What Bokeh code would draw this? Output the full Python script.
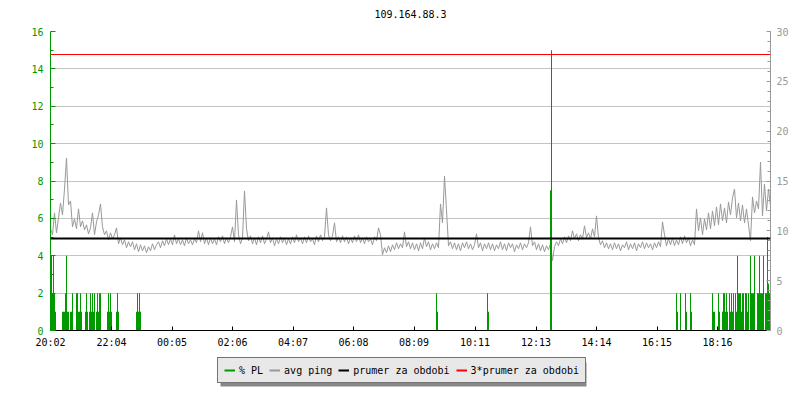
from bokeh.plotting import figure
from bokeh.layouts import column
from bokeh.models import (Range1d, LinearAxis, FixedTicker, Span, Legend,
                          LegendItem, ColumnDataSource, Label, BoxAnnotation)
from bokeh.embed import file_html
from bokeh.resources import INLINE

# ---------------- data ----------------
title_text = "109.164.88.3"
tick_minutes = [0, 122, 243, 364, 485, 606, 727, 849, 971, 1092, 1213, 1334]
tick_labels = ["20:02", "22:04", "00:05", "02:06", "04:07", "06:08",
               "08:09", "10:11", "12:13", "14:14", "16:15", "18:16"]

ping_step_min = 4
ping_values = [
    10.2, 9.6, 11.8, 9.8, 11.3, 12.8, 11.6, 14.2, 17.3, 12.6, 13.0, 10.4, 11.2, 10.2, 12.2, 10.4, 11.0, 10.1, 10.6, 9.7,
    10.3, 11.8, 9.6, 10.9, 11.6, 12.7, 10.4, 9.6, 10.0, 9.1, 9.8, 9.2, 9.6, 10.3, 8.7, 9.3, 8.6, 9.1, 8.3, 8.9,
    8.4, 8.9, 8.1, 8.7, 7.9, 8.6, 8.0, 8.5, 7.8, 8.4, 8.0, 8.7, 8.1, 8.6, 8.9, 8.3, 9.0, 8.5, 9.2, 8.6,
    9.2, 8.6, 9.6, 8.7, 9.2, 8.6, 9.1, 8.5, 9.3, 8.7, 9.1, 8.6, 9.2, 8.8, 10.0, 8.9, 9.8, 8.7, 9.3, 8.6,
    9.3, 8.7, 9.2, 8.6, 9.4, 8.9, 9.5, 8.7, 9.3, 8.8, 9.4, 10.4, 8.9, 13.1, 9.6, 8.7, 9.3, 14.0, 10.2, 9.0,
    9.5, 8.7, 9.3, 8.6, 9.4, 8.8, 9.5, 8.7, 9.2, 9.9, 8.8, 9.3, 8.5, 9.2, 8.7, 9.4, 8.8, 9.3, 8.6, 9.2,
    8.7, 9.4, 8.8, 9.6, 8.9, 9.3, 8.7, 9.4, 8.8, 9.5, 8.9, 9.2, 8.6, 9.5, 8.9, 9.6, 9.0, 9.4, 12.3, 9.6,
    9.0, 9.5, 10.8, 8.9, 9.4, 8.8, 9.5, 8.9, 9.4, 8.7, 9.3, 8.8, 9.5, 8.9, 9.6, 8.8, 9.3, 8.7, 9.4, 8.9,
    9.2, 8.6, 9.4, 9.0, 10.3, 9.6, 7.6, 8.3, 7.8, 8.5, 7.9, 8.6, 8.1, 8.8, 8.2, 8.7, 8.3, 9.9, 8.4, 8.9,
    8.2, 8.8, 8.1, 8.7, 8.0, 8.8, 8.2, 9.3, 8.4, 8.9, 8.1, 8.7, 8.2, 8.8, 8.3, 12.7, 10.8, 15.5, 12.1, 8.5,
    8.9, 8.2, 8.8, 8.1, 8.7, 8.0, 8.8, 8.3, 8.9, 8.2, 8.7, 8.1, 8.6, 9.7, 8.3, 8.8, 8.0, 8.7, 8.2, 8.8,
    8.1, 8.7, 8.0, 8.6, 8.2, 8.9, 8.1, 8.7, 8.0, 8.8, 8.3, 8.7, 7.9, 8.6, 8.2, 8.8, 8.1, 8.7, 8.3, 8.8,
    10.4, 8.5, 8.9, 8.1, 8.7, 8.0, 8.6, 7.9, 8.5, 8.1, 8.7, 7.0, 8.4, 8.9, 8.5, 9.2, 8.7, 9.4, 8.8, 9.5,
    9.0, 10.0, 9.2, 9.7, 9.0, 9.6, 9.2, 10.5, 9.3, 9.8, 9.2, 10.2, 9.4, 11.5, 9.3, 8.6, 9.0, 8.3, 8.8, 8.2,
    8.7, 8.1, 8.8, 8.2, 8.7, 8.0, 8.6, 8.3, 8.9, 8.1, 8.7, 8.2, 8.8, 8.0, 8.7, 8.3, 8.9, 8.2, 8.8, 8.3,
    8.7, 8.1, 8.8, 8.3, 8.9, 8.4, 10.9, 9.6, 8.5, 9.2, 8.6, 9.3, 8.5, 9.1, 8.6, 9.4, 8.7, 9.5, 8.8, 9.3,
    8.5, 9.1, 8.6, 12.2, 10.0, 11.3, 9.6, 11.2, 10.1, 11.8, 10.2, 12.0, 10.5, 12.4, 10.6, 12.7, 11.0, 12.3, 10.8, 12.9,
    11.6, 13.3, 14.2, 11.3, 12.8, 11.0, 12.6, 10.8, 12.2, 10.6, 9.0, 13.4, 11.8, 13.0, 12.2, 16.9, 11.5, 14.7, 12.0, 14.2,
    12.5,
]
ping_minutes = [i * ping_step_min for i in range(len(ping_values))]

pl_minutes = [
    0, 2, 4, 6, 8, 10,
    24, 26, 28, 30, 32, 34, 36,
    40, 42, 44, 52, 54, 56, 58, 60, 62,
    70, 72, 74, 78, 80, 82, 84, 86, 88,
    92, 94, 96, 98, 100,
    114, 116, 118, 120, 122, 132, 134, 136,
    172, 174, 176, 178, 180,
    772, 774, 874, 876, 1000, 1002,
    1252, 1254, 1260, 1270, 1272, 1280, 1282,
    1324, 1326, 1328, 1336, 1338, 1344, 1346, 1348, 1350, 1352, 1354,
    1358, 1360, 1362, 1364, 1366, 1370, 1372, 1374, 1376,
    1378, 1380, 1382, 1384, 1386, 1390, 1392, 1394, 1396,
    1400, 1402, 1404, 1406, 1408, 1414, 1416,
    1418, 1420, 1422, 1424, 1426, 1430, 1432, 1434, 1436, 1438,
]
pl_values = [
    2, 4, 2, 4, 2, 1,
    1, 1, 1, 2, 4, 1, 1,
    1, 1, 2, 2, 2, 1, 1, 2, 1,
    1, 2, 1, 1, 2, 1, 2, 1, 2,
    1, 2, 1, 2, 2,
    1, 2, 1, 2, 1, 1, 2, 1,
    1, 2, 1, 2, 1,
    2, 1, 2, 1, 7.5, 15,
    2, 1, 2, 2, 1, 2, 1,
    2, 1, 1, 2, 1, 1, 2, 2, 1, 2, 1,
    2, 1, 2, 1, 2, 2, 1, 4, 2,
    2, 2, 1, 2, 2, 2, 2, 1, 2,
    4, 2, 2, 2, 4, 2, 2,
    4, 2, 2, 2, 4, 2, 2, 5, 2.5, 2,
]

avg_ping = 9.23
avg_ping_x3 = 3 * avg_ping

legend_labels = ["% PL", "avg ping", "prumer za obdobi", "3*prumer za obdobi"]

# ---------------- style ----------------
GREEN = "#009900"
GRAY = "#999999"
GRID = "#c4c4c4"
RED = "#ff0000"
FONT = "DejaVu Sans Mono"
FS = "10px"
W = 792


def strip(height):
    f = figure(width=W, height=height, x_range=Range1d(0, 1), y_range=Range1d(0, 1),
               output_backend="svg", toolbar_location=None,
               x_axis_type=None, y_axis_type=None,
               min_border_left=0, min_border_right=0,
               min_border_top=0, min_border_bottom=0)
    f.outline_line_color = None
    f.grid.visible = False
    f.background_fill_color = "white"
    f.border_fill_color = "white"
    return f


# ---------------- title strip ----------------
title_fig = strip(23)
title_fig.add_layout(Label(x=0.5, y=0.43, text=title_text, text_align="center",
                           text_baseline="middle", text_font=FONT,
                           text_font_size=FS, text_color="black"))

# ---------------- main chart ----------------
p = figure(width=W, height=329, x_range=Range1d(0, 1440), y_range=Range1d(0, 16),
           output_backend="svg", toolbar_location=None,
           min_border_left=50, min_border_right=22, min_border_top=8,
           min_border_bottom=22)
p.outline_line_color = None
p.background_fill_color = "white"
p.border_fill_color = "white"

p.extra_y_ranges = {"ping": Range1d(0, 30)}

p.xgrid.visible = False
p.ygrid.ticker = FixedTicker(ticks=[2, 4, 6, 8, 10, 12, 14, 16])
p.ygrid.grid_line_color = GRID
p.ygrid.grid_line_width = 1

xa = p.xaxis[0]
xa.ticker = FixedTicker(ticks=tick_minutes)
xa.major_label_overrides = {m: l for m, l in zip(tick_minutes, tick_labels)}
xa.major_tick_in = 4
xa.major_tick_out = 0
xa.minor_tick_in = 0
xa.minor_tick_out = 0
xa.axis_line_color = "black"
xa.major_tick_line_color = "black"
xa.major_label_text_font = FONT
xa.major_label_text_font_size = FS
xa.major_label_text_color = "black"
xa.major_label_standoff = 6

ya = p.yaxis[0]
ya.ticker = FixedTicker(ticks=list(range(0, 17, 2)), minor_ticks=list(range(1, 16, 2)))
ya.axis_line_color = GREEN
ya.major_tick_line_color = GREEN
ya.minor_tick_line_color = GREEN
ya.major_tick_in = 5
ya.major_tick_out = 0
ya.minor_tick_in = 3
ya.minor_tick_out = 0
ya.major_label_text_color = GREEN
ya.major_label_text_font = FONT
ya.major_label_text_font_size = FS
ya.major_label_standoff = 7

ra = LinearAxis(y_range_name="ping",
                ticker=FixedTicker(ticks=list(range(0, 31, 5)), minor_ticks=list(range(0, 31))))
ra.axis_line_color = GRAY
ra.major_tick_line_color = GRAY
ra.minor_tick_line_color = GRAY
ra.major_tick_in = 4
ra.major_tick_out = 0
ra.minor_tick_in = 3
ra.minor_tick_out = 0
ra.major_label_text_color = GRAY
ra.major_label_text_font = FONT
ra.major_label_text_font_size = FS
ra.major_label_standoff = 6
p.add_layout(ra, "right")

ping_src = ColumnDataSource(dict(t=ping_minutes, v=ping_values))
p.line("t", "v", source=ping_src, y_range_name="ping", line_color=GRAY, line_width=1)

p.add_layout(Span(location=avg_ping, dimension="width", y_range_name="ping",
                  line_color="black", line_width=2))
p.add_layout(Span(location=avg_ping_x3, dimension="width", y_range_name="ping",
                  line_color=RED, line_width=1))

pl_src = ColumnDataSource(dict(t=pl_minutes, v=pl_values))
p.vbar(x="t", top="v", bottom=0, width=2, source=pl_src, fill_color=GREEN,
       line_color=None)

# ---------------- legend strip ----------------
leg_fig = strip(40)
leg_fig.x_range = Range1d(0, 720)   # frame pixels
leg_fig.y_range = Range1d(0, 40)

# drop shadow behind the legend box
leg_fig.add_layout(BoxAnnotation(left=170, right=536, bottom=6, top=30,
                                 fill_color="#888888", fill_alpha=1,
                                 line_color=None))

NAN = float("nan")
colors = [GREEN, GRAY, "black", RED]
main_r = [leg_fig.line(x=[NAN], y=[NAN], line_color=c, line_width=2) for c in colors]

legend = Legend(items=[LegendItem(label=l, renderers=[r]) for l, r in zip(legend_labels, main_r)],
                location=(167, 9), orientation="horizontal",
                background_fill_color="#e8e8e8", background_fill_alpha=1,
                border_line_color="black", border_line_width=1,
                label_text_font=FONT, label_text_font_size=FS,
                label_text_color="black",
                glyph_width=11, glyph_height=12, label_height=12,
                label_standoff=4, spacing=6, padding=6, margin=0)
leg_fig.add_layout(legend)

layout = column(title_fig, p, leg_fig, spacing=0)
open("out.html", "w").write(file_html(layout, INLINE))
